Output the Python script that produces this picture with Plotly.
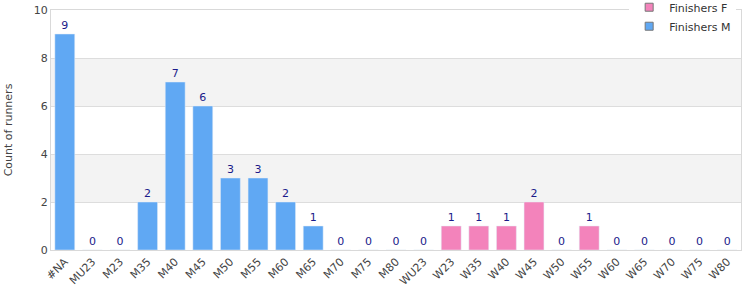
import plotly.graph_objects as go

categories = ["#NA", "MU23", "M23", "M35", "M40", "M45", "M50", "M55", "M60", "M65", "M70", "M75", "M80",
              "WU23", "W23", "W35", "W40", "W45", "W50", "W55", "W60", "W65", "W70", "W75", "W80"]
finishers_m = [9, 0, 0, 2, 7, 6, 3, 3, 2, 1, 0, 0, 0, None, None, None, None, None, None, None, None, None, None, None, None]
finishers_f = [None, None, None, None, None, None, None, None, None, None, None, None, None,
               0, 1, 1, 1, 2, 0, 1, 0, 0, 0, 0, 0]
y_ticks = [0, 2, 4, 6, 8, 10]

col_m = "#60a8f3"
col_f = "#f383bb"
lab_col = "#1a1a8a"
font = "DejaVu Sans"

fig = go.Figure()
fig.add_trace(go.Bar(x=categories, y=finishers_f, name="Finishers F", marker=dict(color=col_f),
                     width=0.72, showlegend=False))
fig.add_trace(go.Bar(x=categories, y=finishers_m, name="Finishers M", marker=dict(color=col_m),
                     width=0.72, showlegend=False))

for vals in (finishers_m, finishers_f):
    xs = [c for c, v in zip(categories, vals) if v is not None]
    ys = [v for v in vals if v is not None]
    fig.add_trace(go.Scatter(x=xs, y=ys, mode="markers+text", text=[str(v) for v in ys],
                             marker=dict(size=2, color="rgba(0,0,0,0)"),
                             textposition="top center", textfont=dict(color=lab_col, size=11, family=font),
                             showlegend=False, hoverinfo="skip", cliponaxis=False))

# legend entries
for name, col in [("Finishers F", col_f), ("Finishers M", col_m)]:
    fig.add_trace(go.Scatter(x=[None], y=[None], mode="markers", name=name,
                             marker=dict(symbol="square", size=8, color=col, line=dict(color="#777", width=1))))

for lo, hi in [(2, 4), (6, 8)]:
    fig.add_shape(type="rect", xref="paper", yref="y", x0=0, x1=1, y0=lo, y1=hi,
                  fillcolor="#f3f3f3", line=dict(width=0), layer="below")

fig.update_layout(
    width=750, height=300,
    margin=dict(l=51, r=9, t=10, b=50, autoexpand=False),
    plot_bgcolor="white", paper_bgcolor="white",
    barmode="overlay",
    font=dict(family=font, size=11, color="#444"),
    legend=dict(x=0.993, xanchor="right", y=1.072, yanchor="top", bgcolor="white",
                font=dict(size=11, color="#333"), traceorder="normal",
                itemwidth=30, tracegroupgap=0),
    showlegend=True,
)
fig.update_xaxes(type="category", categoryorder="array", categoryarray=categories,
                 range=[-0.5, 24.5], automargin=False,
                 tickangle=-45, showline=True, linecolor="#d9d9d9", mirror=True,
                 tickfont=dict(size=11, color="#444"), showgrid=False)
fig.update_yaxes(range=[0, 10], tickvals=y_ticks, showline=True, linecolor="#d9d9d9", mirror=True,
                 gridcolor="#dddddd", zeroline=False, automargin=False,
                 title=dict(text="Count of runners", font=dict(size=11, color="#444"), standoff=18),
                 tickfont=dict(size=11, color="#444"))

fig.write_html("out.html")
